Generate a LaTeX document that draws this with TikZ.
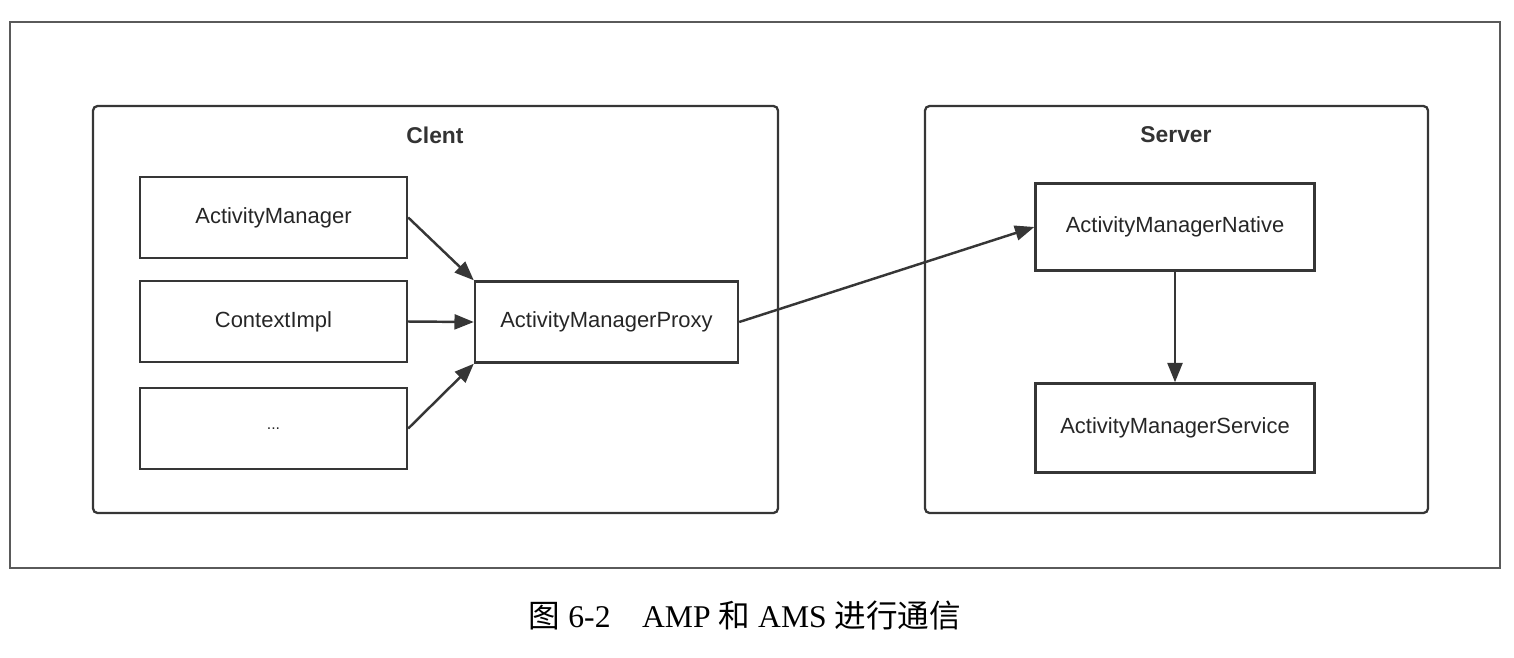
\documentclass[tikz,border=0pt]{standalone}
\usepackage{fontspec}
\setmainfont{Liberation Serif}
\setsansfont{Liberation Sans}
\newfontfamily\cjk{Noto Sans CJK SC}
\usetikzlibrary{arrows.meta}
\definecolor{linegray}{HTML}{363636}
\definecolor{framegray}{HTML}{5A5A5A}
\tikzset{
  classbox/.style={draw=linegray, line width=1.4pt, inner sep=0pt,
    font=\sffamily\fontsize{12.5}{15}\selectfont, text=black!85},
  groupbox/.style={draw=linegray, line width=1.3pt, rounded corners=2.5pt, inner sep=0pt},
  grouptitle/.style={font=\sffamily\bfseries\fontsize{13}{15}\selectfont, text=black!80},
  callarrow/.style={draw=linegray, line width=1.4pt, -{Triangle[length=11pt,width=8.5pt]}},
}
\begin{document}
\begin{tikzpicture}[x=0.02cm, y=-0.02cm]
  \useasboundingbox (0,0) rectangle (1514,657);
  \draw[framegray, line width=0.8pt] (10,22) rectangle (1500,568);

  % client side
  \node[groupbox, minimum width=13.7cm, minimum height=8.14cm] (client) at (435.5,309.5) {};
  \node[grouptitle] (clienttitle) at (435,135) {Clent};
  \node[classbox, minimum width=5.34cm, minimum height=1.62cm] (am) at (273.5,217.5) {ActivityManager};
  \node[classbox, minimum width=5.34cm, minimum height=1.62cm] (ctx) at (273.5,321.5) {ContextImpl};
  \node[classbox, minimum width=5.34cm, minimum height=1.62cm] (more) at (273.5,428.5) {\fontsize{9}{10}\selectfont ...};
  \node[classbox, minimum width=5.26cm, minimum height=1.62cm] (amp) at (606.5,322) {ActivityManagerProxy};

  % server side
  \node[groupbox, minimum width=10.06cm, minimum height=8.14cm] (server) at (1176.5,309.5) {};
  \node[grouptitle] (servertitle) at (1176,135) {Server};
  \node[classbox, minimum width=5.58cm, minimum height=1.74cm] (amn) at (1175,227) {ActivityManagerNative};
  \node[classbox, minimum width=5.58cm, minimum height=1.78cm] (ams) at (1175,428) {ActivityManagerService};

  \draw[callarrow] (am.east) -- (amp.north west);
  \draw[callarrow] (ctx.east) -- (amp.west);
  \draw[callarrow] (more.east) -- (amp.south west);
  \draw[callarrow] (amp.east) -- (amn.west);
  \draw[callarrow] (amn.south) -- (ams.north);

  \node (caption) at (745,615) {\fontsize{18}{20}\selectfont{\cjk 图} 6-2\quad AMP {\cjk 和} AMS {\cjk 进行通信}};
\end{tikzpicture}
\end{document}
